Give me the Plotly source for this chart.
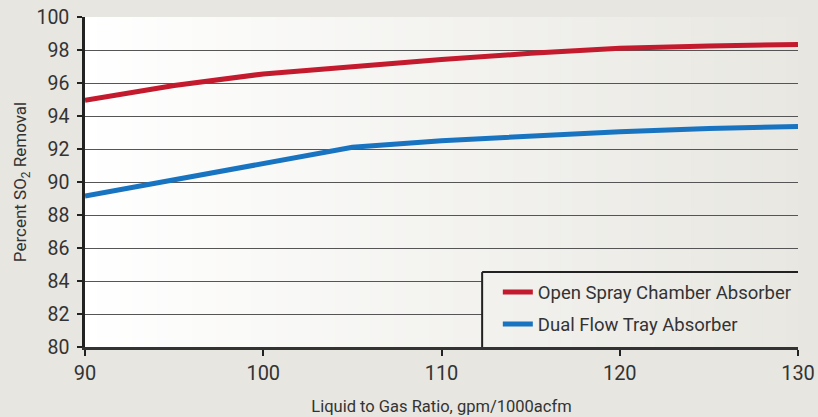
import plotly.graph_objects as go

# ---- data ----
lg_ratio = [90, 95, 100, 105, 110, 115, 120, 125, 130]
open_spray = [94.95, 95.85, 96.55, 97.0, 97.42, 97.8, 98.1, 98.25, 98.34]
dual_flow = [89.15, 90.15, 91.1, 92.1, 92.5, 92.8, 93.05, 93.25, 93.36]
series_names = ["Open Spray Chamber Absorber", "Dual Flow Tray Absorber"]
x_ticks = [90, 100, 110, 120, 130]
y_ticks = [80, 82, 84, 86, 88, 90, 92, 94, 96, 98, 100]

FONT = "Roboto, sans-serif"
PAPER = "#e7e6e0"
RED = "#c41a2e"
BLUE = "#1874c1"

fig = go.Figure()
fig.add_trace(go.Scatter(x=lg_ratio, y=open_spray, mode="lines", name=series_names[0],
                         line=dict(color=RED, width=5), legendgroup="a"))
fig.add_trace(go.Scatter(x=lg_ratio, y=dual_flow, mode="lines", name=series_names[1],
                         line=dict(color=BLUE, width=5), legendgroup="b"))

# gradient background: white at left -> paper grey at right
shapes = []
n = 60
c0 = (255, 255, 255)
c1 = (232, 231, 225)
leg_x0 = 0.557
leg_y1 = 0.227
for i in range(n):
    t = (i + 0.5) / n
    col = tuple(round(c0[k] + (c1[k] - c0[k]) * t) for k in range(3))
    colstr = "rgb(%d,%d,%d)" % col
    x0 = i / n
    x1 = min(1.0, (i + 1) / n + 0.002)
    shapes.append(dict(type="rect", xref="x domain", yref="y domain", x0=x0, x1=x1, y0=0, y1=1,
                       fillcolor=colstr, line=dict(width=0), layer="below"))
    # legend box fill (covers gridlines)
    if x1 > leg_x0:
        shapes.append(dict(type="rect", xref="x domain", yref="y domain", x0=max(x0, leg_x0), x1=x1,
                           y0=0.004, y1=leg_y1, fillcolor=colstr, line=dict(width=0), layer="above"))
# legend border: top and left
shapes.append(dict(type="line", xref="x domain", yref="y domain", x0=leg_x0, x1=1, y0=leg_y1, y1=leg_y1,
                   line=dict(color="#222222", width=2), layer="above"))
shapes.append(dict(type="line", xref="x domain", yref="y domain", x0=leg_x0, x1=leg_x0, y0=0, y1=leg_y1,
                   line=dict(color="#222222", width=2), layer="above"))

fig.update_layout(
    width=818, height=417,
    margin=dict(l=85, r=20, t=17, b=70),
    paper_bgcolor=PAPER, plot_bgcolor=PAPER,
    font=dict(family=FONT, color="#333333", size=19),
    shapes=shapes,
    showlegend=True,
    legend=dict(x=0.579, y=0.223, xanchor="left", yanchor="top", bgcolor="rgba(0,0,0,0)",
                borderwidth=0, font=dict(size=18.5, family=FONT, color="#333333"),
                tracegroupgap=5, traceorder="grouped"),
    xaxis=dict(range=[90, 130], tickvals=x_ticks, showgrid=False, zeroline=False,
               showline=True, linecolor="#333333", linewidth=2.5,
               ticks="outside", ticklen=6, tickwidth=2, tickcolor="#222222",
               tickfont=dict(size=20), automargin=False,
               title=dict(text="Liquid to Gas Ratio, gpm/1000acfm", font=dict(size=16.5), standoff=17)),
    yaxis=dict(range=[80, 100], tickvals=y_ticks, showgrid=True, gridcolor="#555555", gridwidth=1.2,
               zeroline=False, showline=True, linecolor="#222222", linewidth=2.5,
               ticks="outside", ticklen=5, tickwidth=2, tickcolor="#222222",
               tickfont=dict(size=19.5), automargin=False, ticklabelstandoff=4,
               title=dict(text="Percent SO<sub>2</sub> Removal", font=dict(size=17), standoff=6)),
)

fig.write_html("out.html", config={"displayModeBar": False},
               post_script="document.body.style.margin='0';document.body.style.background='%s';" % PAPER)
